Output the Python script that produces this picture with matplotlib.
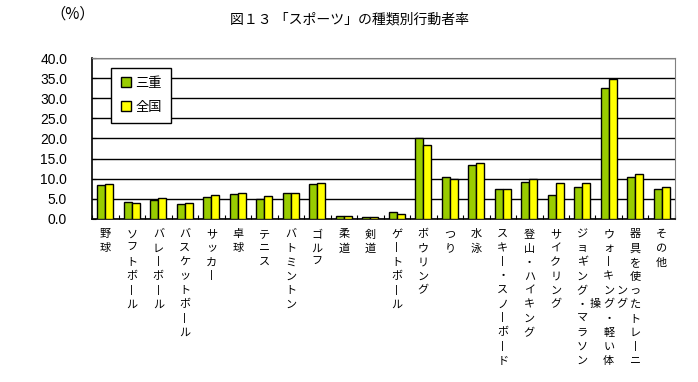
import numpy as np
import matplotlib
matplotlib.use('Agg')
import matplotlib.pyplot as plt
import matplotlib.transforms as mtransforms

plt.rcParams['font.family'] = ['Noto Sans CJK JP', 'DejaVu Sans']

# ------------------------------ Data -----------------------------------

categories = ['野球', 'ソフトボール', 'バレーボール', 'バスケットボール', 'サッカー', '卓球',
              'テニス', 'バトミントン', 'ゴルフ', '柔道', '剣道', 'ゲートボール', 'ボウリング',
              'つり', '水泳', 'スキー・スノーボード', '登山・ハイキング', 'サイクリング',
              'ジョギング・マラソン', 'ウォーキング・軽い体操', '器具を使ったトレーニング', 'その他']
mie = [8.5, 4.3, 4.6, 3.6, 5.5, 6.3, 4.9, 6.5, 8.8, 0.6, 0.5, 1.6, 20.0,
       10.4, 13.5, 7.4, 9.2, 6.0, 7.9, 32.5, 10.4, 7.4]
zenkoku = [8.8, 4.0, 5.3, 4.0, 6.0, 6.5, 5.8, 6.5, 9.0, 0.6, 0.5, 1.1, 18.5,
           9.9, 14.0, 7.4, 9.9, 9.0, 9.0, 34.9, 11.2, 7.9]
# long labels are wrapped into a second column (Excel style)
wrap_at = {'ウォーキング・軽い体操': 10, '器具を使ったトレーニング': 10}
y_ticks = [0, 5, 10, 15, 20, 25, 30, 35, 40]

# ------------------------------ Plot -----------------------------------

fig = plt.figure(figsize=(6.98, 3.82), dpi=100)
ax = fig.add_axes([0.132, 0.427, 0.835, 0.421])

x = np.arange(len(categories))
w = 0.3
ax.bar(x - w / 2, mie, w, color='#99CC00', edgecolor='black', linewidth=1.0, label='三重', zorder=3)
ax.bar(x + w / 2, zenkoku, w, color='#FFFF00', edgecolor='black', linewidth=1.0, label='全国', zorder=3)

ax.set_xlim(-0.5, len(categories) - 0.5)
ax.set_ylim(0, 40)
ax.set_yticks(y_ticks)
ax.set_yticklabels([f'{v:.1f}' for v in y_ticks], family='Liberation Sans', fontsize=10)
ax.yaxis.grid(True, color='black', linewidth=1.0, zorder=0)
ax.set_axisbelow(True)
ax.tick_params(axis='y', direction='in', length=3, pad=18, color='black')

# category boundary ticks
ax.set_xticks(np.arange(len(categories) + 1) - 0.5)
ax.set_xticklabels([])
ax.tick_params(axis='x', direction='in', length=3, color='black')

for s in ['top', 'right']:
    ax.spines[s].set_color('#808080')
for s in ['left', 'bottom']:
    ax.spines[s].set_color('black')
    ax.spines[s].set_linewidth(1.2)

# vertical category labels
trans = mtransforms.blended_transform_factory(ax.transData, ax.transAxes)
ls = 1.5
for i, lab in enumerate(categories):
    chars = ['丨' if c == 'ー' else c for c in lab]
    n = wrap_at.get(lab, len(chars))
    main, rest = chars[:n], chars[n:]
    ax.text(i, -0.065, '\n'.join(main), transform=trans, ha='center', va='top',
            fontsize=8, linespacing=ls)
    if rest:
        start = (n - len(rest) + 1) // 2
        ax.text(i - 0.5, -0.065, '\n' * start + '\n'.join(rest), transform=trans,
                ha='center', va='top', fontsize=8, linespacing=ls)

leg = ax.legend(loc='upper left', bbox_to_anchor=(0.033, 0.94), fontsize=9.5,
                frameon=True, fancybox=False, edgecolor='black', framealpha=1,
                handlelength=0.8, handleheight=0.8, labelspacing=0.8,
                handletextpad=0.3, borderpad=0.7, borderaxespad=0)
leg.get_frame().set_linewidth(1.0)

fig.text(0.5, 0.948, '図１３ 「スポーツ」の種類別行動者率', ha='center', va='center', fontsize=10)
fig.text(0.104, 0.964, '（%）', ha='center', va='center', fontsize=11)

fig.savefig('out.png', dpi=100)
